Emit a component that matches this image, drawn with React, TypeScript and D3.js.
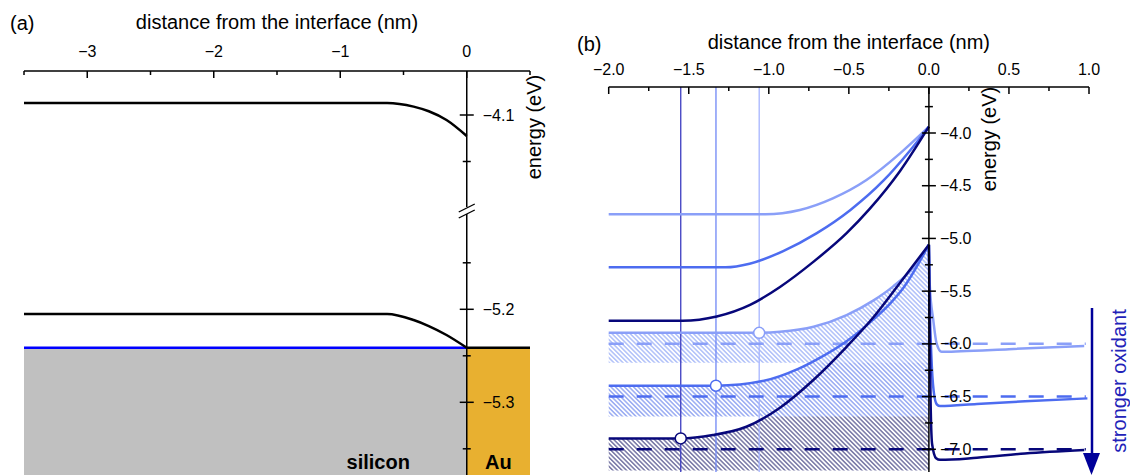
import React from "react";
import * as d3 from "d3";

const FONT = "'Liberation Sans', Arial, sans-serif";

// ---------- panel (a) ----------
const aXMajor = [-3, -2, -1, 0];
const aXMinor = [-3.5, -2.5, -1.5, -0.5, 0.5];
const aUpMajor = [-4.1];
const aUpMinor = [-4.15];
const aLoMajor = [-5.2, -5.3];
const aLoMinor = [-5.15, -5.25, -5.35];

// conduction band and valence band edges (nm, eV)
const aCB: [number, number][] = [
  [-3.5, -4.087], [-0.63, -4.087], [-0.42, -4.091], [-0.3, -4.096], [-0.16, -4.1054], [0, -4.1226],
];
const aVB: [number, number][] = [
  [-3.5, -5.205], [-0.63, -5.205], [-0.42, -5.2115], [-0.3, -5.218], [-0.16, -5.2276], [0, -5.2413],
];
const aFermi = -5.2413;

// ---------- panel (b) ----------
const bXMajor = [-2, -1.5, -1, -0.5, 0, 0.5, 1];
const bXMinor = [-1.75, -1.25, -0.75, -0.25, 0.25, 0.75];
const bYMajor = [-4, -4.5, -5, -5.5, -6, -6.5, -7];
const bYMinor = [-3.75, -4.25, -4.75, -5.25, -5.75, -6.25, -6.75];

const cbLight: [number, number][] = [
  [-2, -4.771], [-1.02, -4.771], [-0.806, -4.73], [-0.6, -4.62], [-0.39, -4.446], [-0.18, -4.193], [0, -3.94],
];
const cbMedium: [number, number][] = [
  [-2, -5.274], [-1.27, -5.274], [-1.12, -5.24], [-0.91, -5.12], [-0.7, -4.95], [-0.49, -4.73],
  [-0.286, -4.455], [-0.12, -4.17], [0, -3.94],
];
const cbDark: [number, number][] = [
  [-2, -5.78], [-1.54, -5.78], [-1.325, -5.74], [-1.117, -5.63], [-0.93, -5.46], [-0.72, -5.22],
  [-0.514, -4.95], [-0.37, -4.72], [-0.18, -4.36], [0, -3.94],
];

const vbLight: [number, number][] = [
  [-2, -5.895], [-1.06, -5.895], [-0.93, -5.885], [-0.72, -5.838], [-0.514, -5.727], [-0.348, -5.59],
  [-0.223, -5.455], [-0.1, -5.28], [0, -5.06],
];
const vbMedium: [number, number][] = [
  [-2, -6.397], [-1.33, -6.397], [-1.03, -6.35], [-0.82, -6.24], [-0.69, -6.14], [-0.514, -5.975],
  [-0.348, -5.77], [-0.244, -5.62], [-0.16, -5.47], [0, -5.06],
];
const vbDark: [number, number][] = [
  [-2, -6.897], [-1.55, -6.897], [-1.349, -6.865], [-1.14, -6.786], [-0.93, -6.605], [-0.72, -6.34],
  [-0.514, -6.028], [-0.348, -5.75], [-0.18, -5.42], [0, -5.06],
];

// potential on the electrolyte side
const elLight: [number, number][] = [
  [0, -5.06], [0.006, -5.46], [0.027, -5.77], [0.048, -5.995], [0.079, -6.075], [0.2, -6.07], [0.5, -6.05], [0.97, -6.02],
];
const elMedium: [number, number][] = [
  [0, -5.06], [0.005, -5.6], [0.015, -6.1], [0.03, -6.45], [0.05, -6.575], [0.07, -6.59], [0.3, -6.57], [0.6, -6.545], [0.99, -6.517],
];
const elDark: [number, number][] = [
  [0, -5.06], [0.005, -5.8], [0.01, -6.5], [0.02, -6.95], [0.045, -7.085], [0.07, -7.1], [0.3, -7.08], [0.6, -7.04], [0.97, -7.007],
];

const redoxLevels = [-6.0, -6.5, -7.0];
const pinX = [-1.06, -1.33, -1.55];
const bandFloor = [-6.18, -6.69, -7.2];

const series = [
  { key: "light", color: "#8a9ff8", vline: "#a6b5ff", hatch: "#9cb0f8", cb: cbLight, vb: vbLight, el: elLight },
  { key: "medium", color: "#4d6cf0", vline: "#6e86f5", hatch: "#7f96f0", cb: cbMedium, vb: vbMedium, el: elMedium },
  { key: "dark", color: "#07077a", vline: "#3c3cc0", hatch: "#55558f", cb: cbDark, vb: vbDark, el: elDark },
];

export default function App() {
  // scales for panel (a)
  const xA = d3.scaleLinear().domain([-3.5, 0.5]).range([24, 530]);
  const yUp = d3.scaleLinear().domain([-4.1, -4.2]).range([115, 208]);
  const yLo = d3.scaleLinear().domain([-5.2, -5.3]).range([309.3, 402.3]);
  const aAxisY = 71;
  const x0A = xA(0);

  const lineUp = d3.line<[number, number]>().x(d => xA(d[0])).y(d => yUp(d[1])).curve(d3.curveMonotoneX);
  const lineLo = d3.line<[number, number]>().x(d => xA(d[0])).y(d => yLo(d[1])).curve(d3.curveMonotoneX);

  // scales for panel (b)
  const xB = d3.scaleLinear().domain([-2, 1]).range([608.7, 1089]);
  const yB = d3.scaleLinear().domain([-4, -7]).range([133, 449.3]);
  const bAxisY = 87;
  const bBottom = 472;
  const x0B = xB(0);

  const lineB = d3.line<[number, number]>().x(d => xB(d[0])).y(d => yB(d[1])).curve(d3.curveMonotoneX);
  const areaB = (floor: number) =>
    d3.area<[number, number]>().x(d => xB(d[0])).y0(yB(floor)).y1(d => yB(d[1])).curve(d3.curveMonotoneX);

  const fmt1 = d3.format(".1f");
  const fmt0 = d3.format("d");
  const yFermi = yLo(aFermi);

  return (
    <svg width={1130} height={475} style={{ position: "absolute", left: 0, top: 0, background: "#fff" }} fontFamily={FONT}>
      <defs>
        {series.map(s => (
          <pattern key={s.key} id={`hatch-${s.key}`} patternUnits="userSpaceOnUse" width={3.2} height={4} patternTransform="rotate(-45)">
            <rect width={3.2} height={4} fill="#fff" />
            <line x1={1.6} y1={0} x2={1.6} y2={4} stroke={s.hatch} strokeWidth={1.2} />
          </pattern>
        ))}
      </defs>

      {/* ===== panel (a) ===== */}
      <text x={10} y={30} fontSize={20}>(a)</text>
      <text x={(xA(-3.5) + xA(0.5)) / 2} y={29} fontSize={20} textAnchor="middle">distance from the interface (nm)</text>

      <rect x={xA(-3.5)} y={yFermi} width={x0A - xA(-3.5)} height={475 - yFermi} fill="#c0c0c0" />
      <rect x={x0A} y={yFermi} width={xA(0.5) - x0A} height={475 - yFermi} fill="#e8b030" />
      <line x1={xA(-3.5)} x2={x0A} y1={yFermi} y2={yFermi} stroke="#0000ff" strokeWidth={2.5} />
      <line x1={x0A} x2={xA(0.5)} y1={yFermi} y2={yFermi} stroke="#000" strokeWidth={2.5} />
      <path d={lineUp(aCB) || ""} fill="none" stroke="#000" strokeWidth={2.5} />
      <path d={lineLo(aVB) || ""} fill="none" stroke="#000" strokeWidth={2.5} />
      <text x={xA(-0.7)} y={469} fontSize={20} fontWeight="bold" textAnchor="middle">silicon</text>
      <text x={(x0A + xA(0.5)) / 2} y={469} fontSize={20} fontWeight="bold" textAnchor="middle">Au</text>

      {/* top axis (a) */}
      <line x1={xA(-3.5)} x2={xA(0.5)} y1={aAxisY} y2={aAxisY} stroke="#000" strokeWidth={1.5} />
      {aXMajor.map(v => (
        <g key={`axm${v}`}>
          <line x1={xA(v)} x2={xA(v)} y1={aAxisY} y2={aAxisY + 7} stroke="#000" strokeWidth={1.5} />
          <text x={xA(v)} y={aAxisY - 14} fontSize={16} textAnchor="middle">{fmt0(v)}</text>
        </g>
      ))}
      {aXMinor.map(v => (
        <line key={`axn${v}`} x1={xA(v)} x2={xA(v)} y1={aAxisY} y2={aAxisY + 4} stroke="#000" strokeWidth={1.5} />
      ))}

      {/* right axis (a) with break */}
      <line x1={x0A} x2={x0A} y1={aAxisY} y2={475} stroke="#000" strokeWidth={1.5} />
      {aUpMajor.map(v => (
        <g key={`aum${v}`}>
          <line x1={x0A - 7} x2={x0A + 7} y1={yUp(v)} y2={yUp(v)} stroke="#000" strokeWidth={1.5} />
          <text x={x0A + 16} y={yUp(v)} fontSize={16} dominantBaseline="central">{fmt1(v)}</text>
        </g>
      ))}
      {aUpMinor.map(v => (
        <line key={`aun${v}`} x1={x0A - 4} x2={x0A + 4} y1={yUp(v)} y2={yUp(v)} stroke="#000" strokeWidth={1.5} />
      ))}
      {aLoMajor.map(v => (
        <g key={`alm${v}`}>
          <line x1={x0A - 7} x2={x0A + 7} y1={yLo(v)} y2={yLo(v)} stroke="#000" strokeWidth={1.5} />
          <text x={x0A + 16} y={yLo(v)} fontSize={16} dominantBaseline="central">{fmt1(v)}</text>
        </g>
      ))}
      {aLoMinor.map(v => (
        <line key={`aln${v}`} x1={x0A - 4} x2={x0A + 4} y1={yLo(v)} y2={yLo(v)} stroke="#000" strokeWidth={1.5} />
      ))}
      <rect x={x0A - 2} y={207} width={4} height={7} fill="#fff" />
      <line x1={x0A - 8} x2={x0A + 8} y1={212} y2={204} stroke="#000" strokeWidth={1.3} />
      <line x1={x0A - 8} x2={x0A + 8} y1={218} y2={210} stroke="#000" strokeWidth={1.3} />
      <text transform={`translate(${541},${127}) rotate(-90)`} fontSize={20} textAnchor="middle">energy (eV)</text>

      {/* ===== panel (b) ===== */}
      <text x={577} y={51} fontSize={20}>(b)</text>
      <text x={xB(-0.5)} y={49} fontSize={20} textAnchor="middle">distance from the interface (nm)</text>

      {series.map((s, i) => (
        <path key={`h${s.key}`} d={areaB(bandFloor[i])(s.vb) || ""} fill={`url(#hatch-${s.key})`} />
      )).reverse()}

      {series.map((s, i) => (
        <line key={`v${s.key}`} x1={xB(pinX[i])} x2={xB(pinX[i])} y1={bAxisY} y2={bBottom} stroke={s.vline} strokeWidth={1.3} />
      ))}

      {series.map((s, i) => (
        <line key={`d${s.key}`} x1={xB(-2)} x2={xB(0.98)} y1={yB(redoxLevels[i])} y2={yB(redoxLevels[i])}
          stroke={s.color} strokeWidth={2.5} strokeDasharray="15,13" />
      ))}

      {series.map(s => (
        <g key={`c${s.key}`} fill="none" stroke={s.color} strokeWidth={2.5}>
          <path d={lineB(s.cb) || ""} />
          <path d={lineB(s.vb) || ""} />
          <path d={lineB(s.el) || ""} />
        </g>
      ))}

      {series.map((s, i) => (
        <circle key={`p${s.key}`} cx={xB(pinX[i])} cy={yB(s.vb[0][1])} r={5.5} fill="#fff" stroke={s.color} strokeWidth={1.5} />
      ))}

      {/* top axis (b) */}
      <line x1={xB(-2)} x2={xB(1)} y1={bAxisY} y2={bAxisY} stroke="#000" strokeWidth={1.5} />
      {bXMajor.map(v => (
        <g key={`bxm${v}`}>
          <line x1={xB(v)} x2={xB(v)} y1={bAxisY} y2={bAxisY + 7} stroke="#000" strokeWidth={1.5} />
          <text x={xB(v)} y={bAxisY - 12} fontSize={16} textAnchor="middle">{fmt1(v)}</text>
        </g>
      ))}
      {bXMinor.map(v => (
        <line key={`bxn${v}`} x1={xB(v)} x2={xB(v)} y1={bAxisY} y2={bAxisY + 4} stroke="#000" strokeWidth={1.5} />
      ))}

      {/* energy axis (b) */}
      <line x1={x0B} x2={x0B} y1={bAxisY} y2={bBottom} stroke="#000" strokeWidth={1.5} />
      {bYMajor.map(v => (
        <g key={`bym${v}`}>
          <line x1={x0B - 7} x2={x0B + 7} y1={yB(v)} y2={yB(v)} stroke="#000" strokeWidth={1.5} />
          <text x={x0B + 11} y={yB(v)} fontSize={16} dominantBaseline="central">{fmt1(v)}</text>
        </g>
      ))}
      {bYMinor.map(v => (
        <line key={`byn${v}`} x1={x0B - 4} x2={x0B + 4} y1={yB(v)} y2={yB(v)} stroke="#000" strokeWidth={1.5} />
      ))}
      <text transform={`translate(${996},${139}) rotate(-90)`} fontSize={20} textAnchor="middle">energy (eV)</text>

      {/* oxidant arrow */}
      <line x1={1092} x2={1092} y1={308} y2={455} stroke="#00009a" strokeWidth={2.5} />
      <path d="M1083,453 L1100,453 L1091.5,475 Z" fill="#00009a" />
      <text transform={`translate(${1126},${381}) rotate(-90)`} fontSize={20} textAnchor="middle" fill="#2222b8">stronger oxidant</text>
    </svg>
  );
}
